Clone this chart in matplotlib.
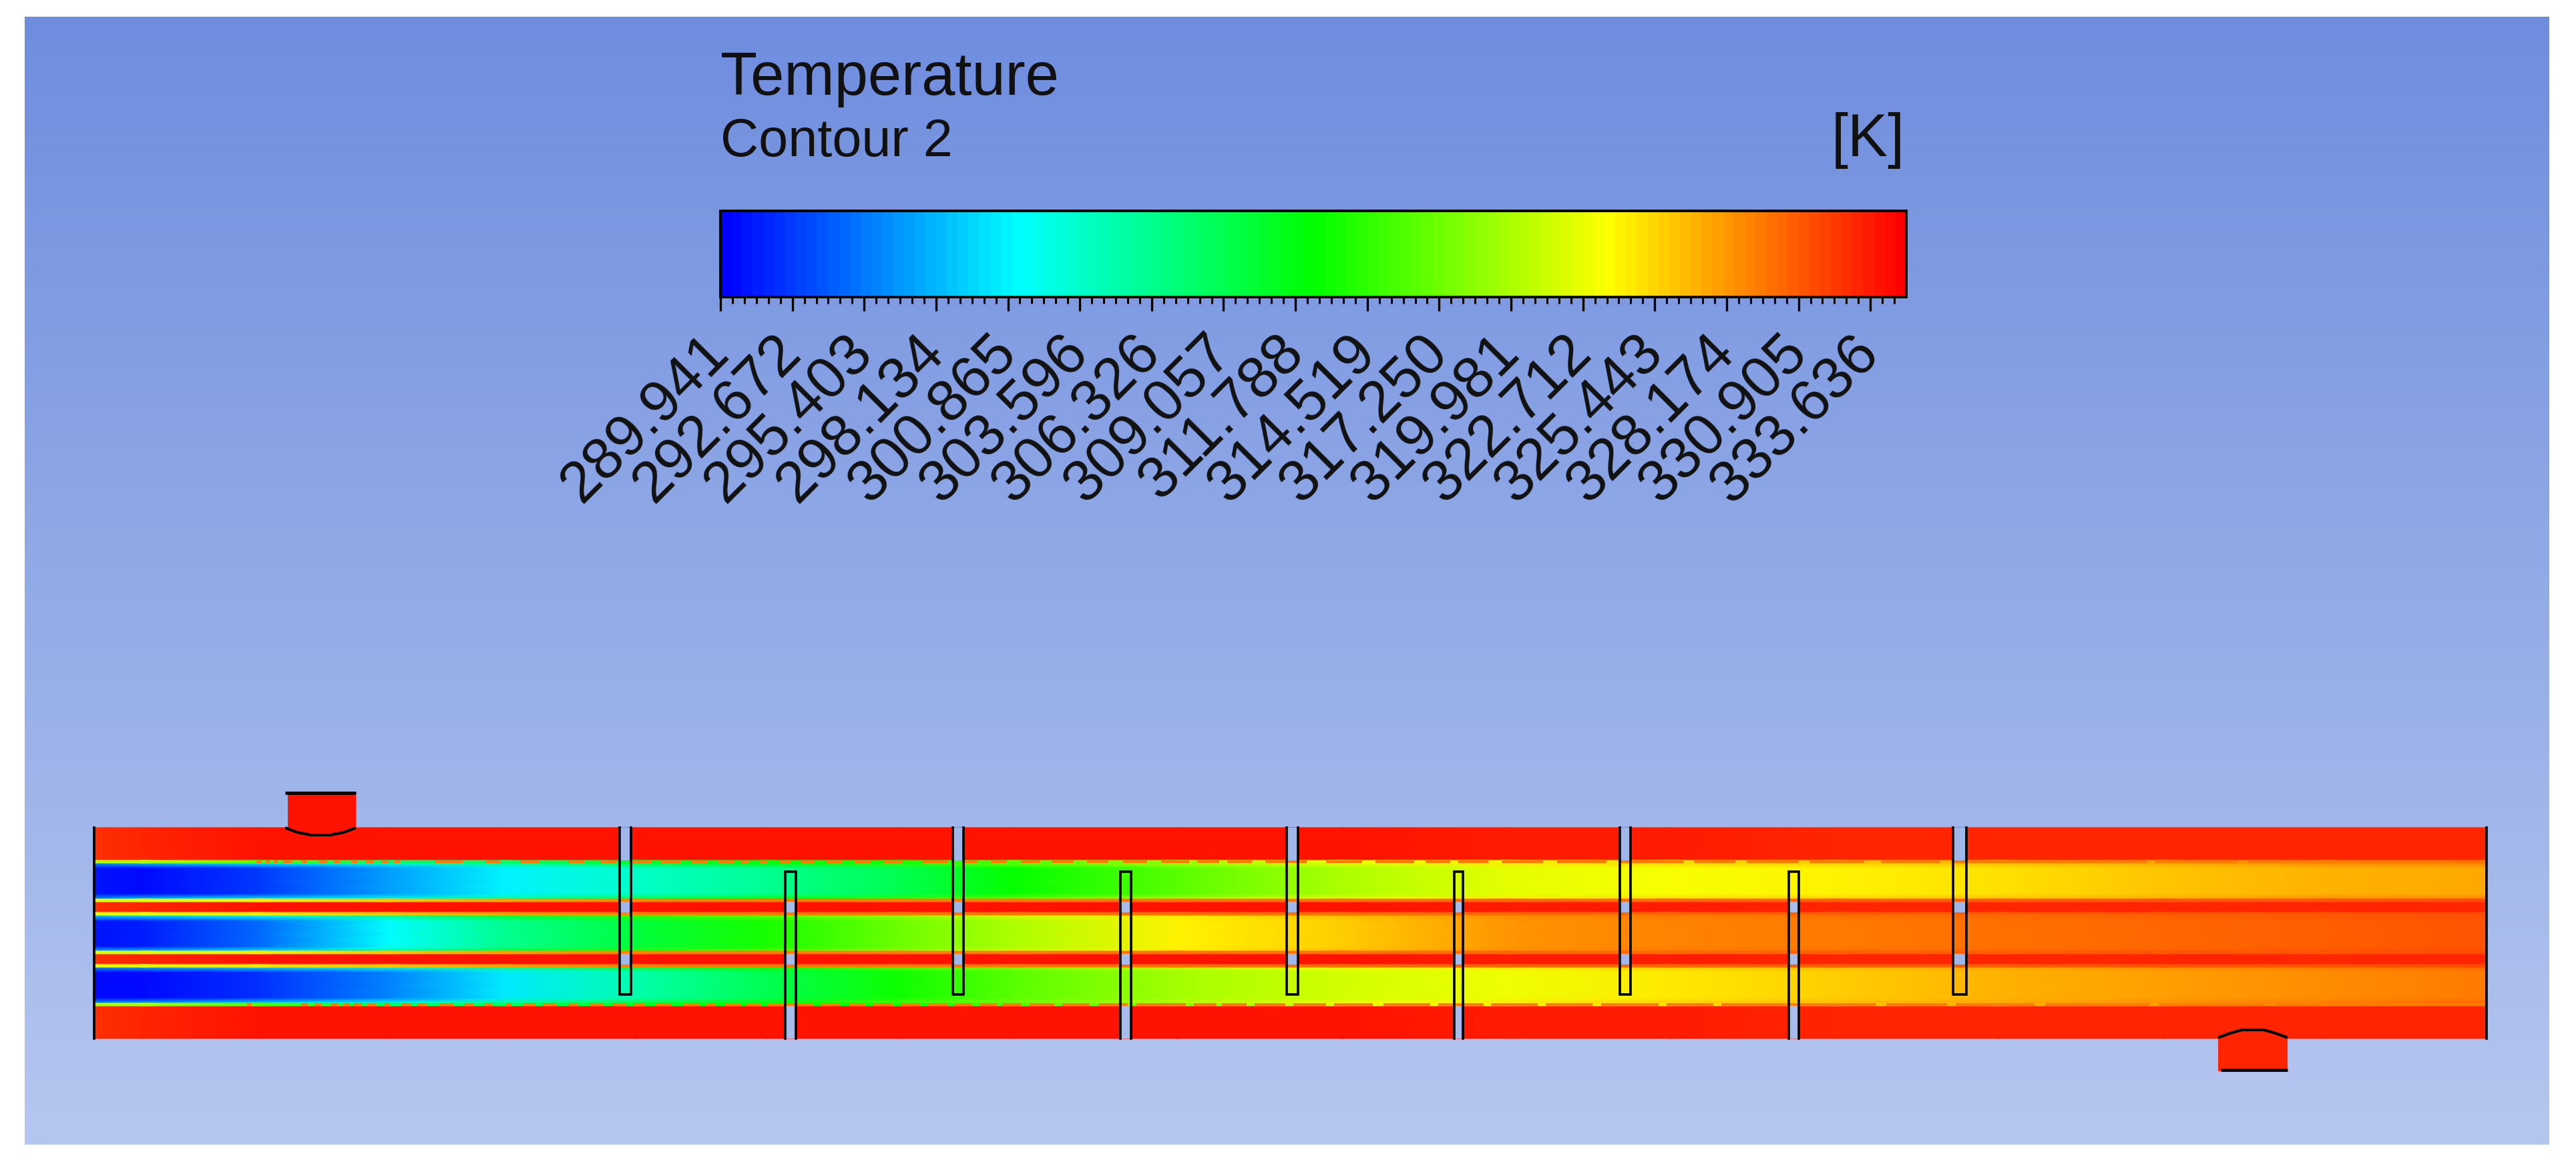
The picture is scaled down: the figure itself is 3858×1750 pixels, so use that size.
import numpy as np
import matplotlib
matplotlib.use('Agg')
import matplotlib.pyplot as plt
from matplotlib.colors import LinearSegmentedColormap, Normalize
from matplotlib.patches import Rectangle

plt.rcParams['font.family'] = ['Liberation Sans', 'DejaVu Sans']

tick_labels = ['289.941', '292.672', '295.403', '298.134', '300.865', '303.596', '306.326', '309.057', '311.788',
               '314.519', '317.250', '319.981', '322.712', '325.443', '328.174', '330.905', '333.636']
t_min = 289.941
t_max = 335.0

# stations along the exchanger, pixels in the full size picture
stations = [140, 214, 386, 583, 755, 952, 1149, 1346, 1518, 1764, 2010, 2256, 2502, 2748, 2994, 3240, 3486, 3725]

tube1_core = [290.9, 290.4, 292.7, 297.0, 300.8, 303.6, 306.3, 309.0, 312.6, 316.3, 319.9, 322.6, 323.5, 324.0, 325.1, 326.3, 327.2, 327.6]
tube2_core = [290.9, 291.3, 294.5, 301.3, 306.3, 309.9, 313.5, 317.2, 319.9, 324.0, 325.8, 328.1, 329.0, 329.4, 329.9, 330.3, 330.8, 331.3]
tube3_core = [290.4, 290.4, 292.2, 295.8, 300.4, 304.9, 309.0, 313.0, 316.3, 319.5, 321.7, 323.1, 324.4, 325.8, 327.2, 327.9, 328.5, 329.4]
tube1_edge = [296.7, 299.0, 300.8, 302.7, 306.3, 309.9, 312.2, 314.5, 317.2, 319.9, 322.6, 324.4, 325.4, 325.8, 326.7, 327.6, 328.5, 329.0]
tube2_edge = [299.0, 299.9, 301.7, 306.3, 310.8, 314.5, 316.3, 319.0, 321.7, 324.4, 326.7, 328.5, 329.4, 329.9, 330.3, 330.8, 331.3, 331.7]
tube3_edge = [296.7, 298.1, 299.9, 302.2, 306.3, 309.9, 312.6, 315.8, 318.1, 320.8, 323.1, 324.4, 325.8, 326.7, 327.6, 328.5, 329.4, 330.3]
wall_temp = [322.6, 322.6, 324.4, 326.2, 328.0, 329.0, 329.4, 329.4, 329.4, 329.8, 330.0, 330.2, 330.4, 330.6, 330.8, 331.0, 331.2, 331.4]
outer_strip = [320.0, 320.0, 316.0, 308.0, 308.0, 311.0, 312.0, 313.0, 316.0, 319.0, 323.0, 324.0, 325.0, 326.0, 327.0, 328.0, 329.0, 330.0]
shell_temp = [332.6, 333.3, 333.9, 334.1, 334.1, 334.1, 334.1, 334.1, 334.0, 333.9, 333.8, 333.6, 333.4, 333.2, 333.1, 333.0, 333.0, 333.0]

top_baffles = [(928, 945), (1427, 1443), (1927, 1944), (2426, 2442), (2925, 2945)]
bottom_baffles = [(1176, 1192), (1678, 1694), (2178, 2191), (2679, 2694)]

# orange dashes on the outer tube walls
top_dashes = [(384, 392), (398, 404), (410, 416), (424, 438), (452, 460), (478, 490), (500, 510), (526, 536), (548, 560),
              (572, 582), (590, 600), (651, 693), (728, 749), (780, 808), (851, 875), (900, 924), (945, 975), (990, 1020),
              (1035, 1060), (1075, 1100), (1109, 1121), (1138, 1150), (1167, 1184), (1200, 1220), (1237, 1262),
              (1279, 1303), (1324, 1352), (1381, 1419), (1443, 1464), (1484, 1508), (1529, 1557), (1575, 1608),
              (1628, 1660), (1682, 1718), (1739, 1781), (1793, 1826), (1838, 1875), (1895, 1957), (1986, 2040),
              (2060, 2118), (2135, 2172), (2184, 2229), (2249, 2311), (2332, 2406), (2426, 2521), (2537, 2599),
              (2616, 2694), (2710, 2792), (2817, 2905), (2924, 3216), (3227, 3351), (3367, 3508), (3528, 3668),
              (3718, 3725)]
bottom_dashes = [(370, 377), (451, 461), (472, 482), (496, 507), (514, 524), (529, 542), (550, 563), (575, 584), (602, 616),
                 (625, 640), (658, 679), (695, 710), (726, 738), (757, 766), (784, 802), (813, 833), (851, 865),
                 (884, 903), (917, 938), (949, 966), (982, 1005), (1024, 1047), (1058, 1072), (1085, 1109), (1118, 1139),
                 (1150, 1217), (1229, 1258), (1271, 1295), (1308, 1337), (1349, 1378), (1390, 1419), (1430, 1455),
                 (1467, 1493), (1501, 1530), (1542, 1579), (1591, 1632), (1645, 1689), (1702, 1776), (1788, 1822),
                 (1830, 1867), (1879, 1925), (1937, 1986), (1998, 2056), (2072, 2142), (2154, 2222), (2233, 2303),
                 (2315, 2385), (2398, 2484), (2496, 2566), (2578, 2810), (2825, 2916), (2929, 3047), (3064, 3220),
                 (3233, 3392), (3409, 3725)]

W, H = 3858, 1750
fig = plt.figure(figsize=(W / 100, H / 100), dpi=100, facecolor='white')

ax = fig.add_axes([0, 0, 1, 1])
ax.set_xlim(0, W)
ax.set_ylim(H, 0)
ax.axis('off')

# background
bg = LinearSegmentedColormap.from_list('bg', ['#6E8DDE', '#B6C7EF'])
ax.imshow(np.linspace(0, 1, 256)[:, None], extent=(37, 3818, 1715, 25), cmap=bg, aspect='auto', zorder=0)

colors = ['#0000FF', '#00FFFF', '#00FF00', '#FFFF00', '#FF0000']
cmap = LinearSegmentedColormap.from_list('ansys', colors, N=110)
norm = Normalize(t_min, t_max)


def band(y_rows, columns):
    ax.pcolormesh(stations, y_rows, np.array(columns), shading='gouraud', cmap=cmap, norm=norm, zorder=1)


band([1240, 1289], [shell_temp, shell_temp])
band([1351, 1367], [shell_temp, shell_temp])
band([1429, 1445], [shell_temp, shell_temp])
band([1507, 1556], [shell_temp, shell_temp])
for y0, edge, core in [(1293, tube1_edge, tube1_core), (1372, tube2_edge, tube2_core), (1449, tube3_edge, tube3_core)]:
    band([y0, y0 + 8, y0 + 27, y0 + 46, y0 + 54], [edge, core, core, core, edge])
for y0 in [1347, 1367, 1425, 1445]:
    band([y0, y0 + 4], [wall_temp, wall_temp])
for y0 in [1289, 1503]:
    band([y0, y0 + 4], [outer_strip, outer_strip])

dash_color = cmap(norm(329.5))
for x0, x1 in top_dashes:
    ax.add_patch(Rectangle((x0, 1289), x1 - x0, 4, fc=dash_color, ec='none', zorder=2))
for x0, x1 in bottom_dashes:
    ax.add_patch(Rectangle((x0, 1503), x1 - x0, 4, fc=dash_color, ec='none', zorder=2))

# inlet and outlet stubs
inlet_temp = shell_temp[2]
outlet_temp = shell_temp[-3]
ax.add_patch(Rectangle((431, 1188), 102, 52, fc=cmap(norm(inlet_temp)), ec='none', zorder=2))
ax.add_patch(Rectangle((3322, 1556), 104, 49, fc=cmap(norm(outlet_temp)), ec='none', zorder=2))
ax.plot([427, 533], [1188, 1188], color='black', lw=3.5, zorder=4, solid_capstyle='butt')
ax.plot([3326, 3426], [1603, 1603], color='black', lw=3.5, zorder=4, solid_capstyle='butt')
ax.plot([429, 445, 465, 495, 515, 531], [1241, 1247, 1251, 1251, 1247, 1241], color='black', lw=3, zorder=4)
ax.plot([3324, 3340, 3358, 3390, 3408, 3424], [1554, 1548, 1543, 1543, 1548, 1554], color='black', lw=3, zorder=4)

# baffle slots show the background where they cross the shell side
for x0, x1 in top_baffles:
    for y0, y1 in [(1240, 1289), (1351, 1367), (1429, 1445)]:
        ax.add_patch(Rectangle((x0, y0), x1 - x0, y1 - y0, fc='#A2B7E9', ec='none', zorder=3))
    ax.plot([x0, x0, x1, x1], [1240, 1490, 1490, 1240], color='black', lw=2.6, zorder=4, solid_joinstyle='miter')
for x0, x1 in bottom_baffles:
    for y0, y1 in [(1351, 1367), (1429, 1445), (1507, 1556)]:
        ax.add_patch(Rectangle((x0, y0), x1 - x0, y1 - y0, fc='#A8BCEB', ec='none', zorder=3))
    ax.plot([x0, x0, x1, x1], [1556, 1306, 1306, 1556], color='black', lw=2.6, zorder=4, solid_joinstyle='miter')

ax.plot([141, 141], [1240, 1556], color='black', lw=2.6, zorder=4)
ax.plot([3724, 3724], [1240, 1556], color='black', lw=2.6, zorder=4)

# legend
ax.text(1079, 142, 'Temperature', fontsize=65, color='#111111', ha='left', va='baseline')
ax.text(1079, 234, 'Contour 2', fontsize=57, color='#111111', ha='left', va='baseline')
ax.text(2853, 234, '[K]', fontsize=65, color='#111111', ha='right', va='baseline')

cax = fig.add_axes([1079 / W, 1 - 445 / H, 1776 / W, 129 / H])
sm = plt.cm.ScalarMappable(norm=norm, cmap=cmap)
cbar = fig.colorbar(sm, cax=cax, orientation='horizontal')
cbar.outline.set_linewidth(2.8)
major = [float(v) for v in tick_labels]
cbar.set_ticks(major)
cbar.set_ticklabels(tick_labels)
step = (major[-1] - major[0]) / 16
cax.set_xticks(np.arange(t_min, t_max, step / 6), minor=True)
cax.tick_params(axis='x', which='major', length=15, width=2.4, pad=36, color='black')
cax.tick_params(axis='x', which='minor', length=7, width=2.2, color='black')
for lab in cax.get_xticklabels():
    lab.set_fontsize(63)
    lab.set_color('#111111')
    lab.set_rotation(45)
    lab.set_ha('right')
    lab.set_va('center')
    lab.set_rotation_mode('anchor')

fig.savefig('out.png', dpi=100)
